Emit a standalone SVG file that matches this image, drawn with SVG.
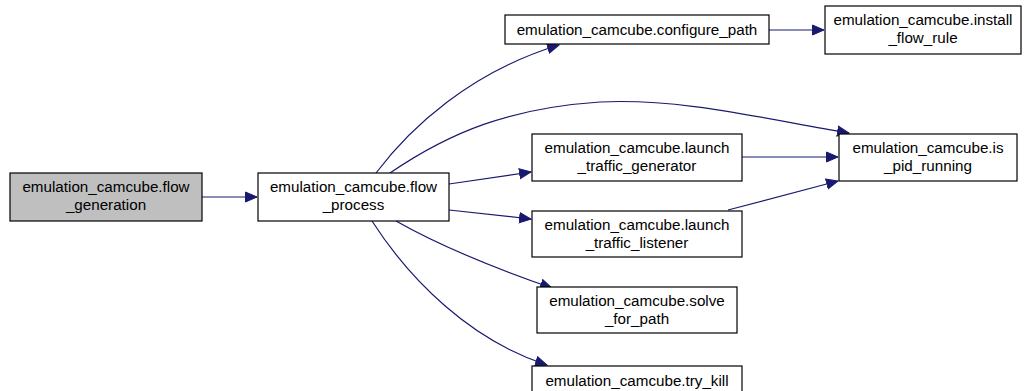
<svg xmlns="http://www.w3.org/2000/svg" width="1024" height="391" viewBox="0 0 1024 391">
<style>
.box{fill:#ffffff;stroke:#000000;stroke-width:1.2}
.root{fill:#bfbfbf;stroke:#000000;stroke-width:1.2}
.lbl{font-family:"Liberation Sans",Arial,sans-serif;font-size:15.2px;fill:#000000;text-anchor:middle}
.edge{fill:none;stroke:#191970;stroke-width:1.2}
</style>
<defs>
<marker id="arr" markerWidth="14" markerHeight="12" refX="12" refY="6" orient="auto" markerUnits="userSpaceOnUse">
<path d="M0.5,1 L12,6 L0.5,11 Z" fill="#191970" stroke="#191970"/>
</marker>
</defs>
<rect width="1024" height="391" fill="#ffffff"/>
<g id="connectors">
<path class="edge" marker-end="url(#arr)" d="M202,197 L257,197"/>
<path class="edge" marker-end="url(#arr)" d="M376,173 C410,128 470,72 559,45"/>
<path class="edge" marker-end="url(#arr)" d="M390,173 C450,132 510,108 600,102 C680,98 760,118 849,133"/>
<path class="edge" marker-end="url(#arr)" d="M449,184 L531,172"/>
<path class="edge" marker-end="url(#arr)" d="M449,210 L531,219"/>
<path class="edge" marker-end="url(#arr)" d="M396,221 C440,246 500,270 552,288"/>
<path class="edge" marker-end="url(#arr)" d="M372,221 C410,280 470,340 547,365"/>
<path class="edge" marker-end="url(#arr)" d="M769,30 L824,30"/>
<path class="edge" marker-end="url(#arr)" d="M742,157 L838,157"/>
<path class="edge" marker-end="url(#arr)" d="M728,210 L838,181"/>
</g>
<g id="flow_generation">
<rect class="root" x="10" y="173" width="192" height="48"/>
<text class="lbl" x="106" y="192">emulation_camcube.flow</text>
<text class="lbl" x="106" y="210">_generation</text>
</g>
<g id="flow_process">
<rect class="box" x="258" y="173" width="191" height="48"/>
<text class="lbl" x="353.5" y="192">emulation_camcube.flow</text>
<text class="lbl" x="353.5" y="210">_process</text>
</g>
<g id="configure_path">
<rect class="box" x="505" y="15" width="264" height="29"/>
<text class="lbl" x="637" y="35">emulation_camcube.configure_path</text>
</g>
<g id="install_flow_rule">
<rect class="box" x="825" y="6" width="196" height="48"/>
<text class="lbl" x="923" y="25">emulation_camcube.install</text>
<text class="lbl" x="923" y="43">_flow_rule</text>
</g>
<g id="is_pid_running">
<rect class="box" x="839" y="134" width="178" height="47"/>
<text class="lbl" x="928" y="153">emulation_camcube.is</text>
<text class="lbl" x="928" y="171">_pid_running</text>
</g>
<g id="launch_traffic_generator">
<rect class="box" x="532" y="134" width="210" height="47"/>
<text class="lbl" x="637" y="153">emulation_camcube.launch</text>
<text class="lbl" x="637" y="171">_traffic_generator</text>
</g>
<g id="launch_traffic_listener">
<rect class="box" x="532" y="211" width="210" height="46"/>
<text class="lbl" x="637" y="230">emulation_camcube.launch</text>
<text class="lbl" x="637" y="248">_traffic_listener</text>
</g>
<g id="solve_for_path">
<rect class="box" x="537" y="287" width="200" height="46"/>
<text class="lbl" x="637" y="306">emulation_camcube.solve</text>
<text class="lbl" x="637" y="324">_for_path</text>
</g>
<g id="try_kill">
<rect class="box" x="532" y="366" width="210" height="30"/>
<text class="lbl" x="637" y="386">emulation_camcube.try_kill</text>
</g>
</svg>
